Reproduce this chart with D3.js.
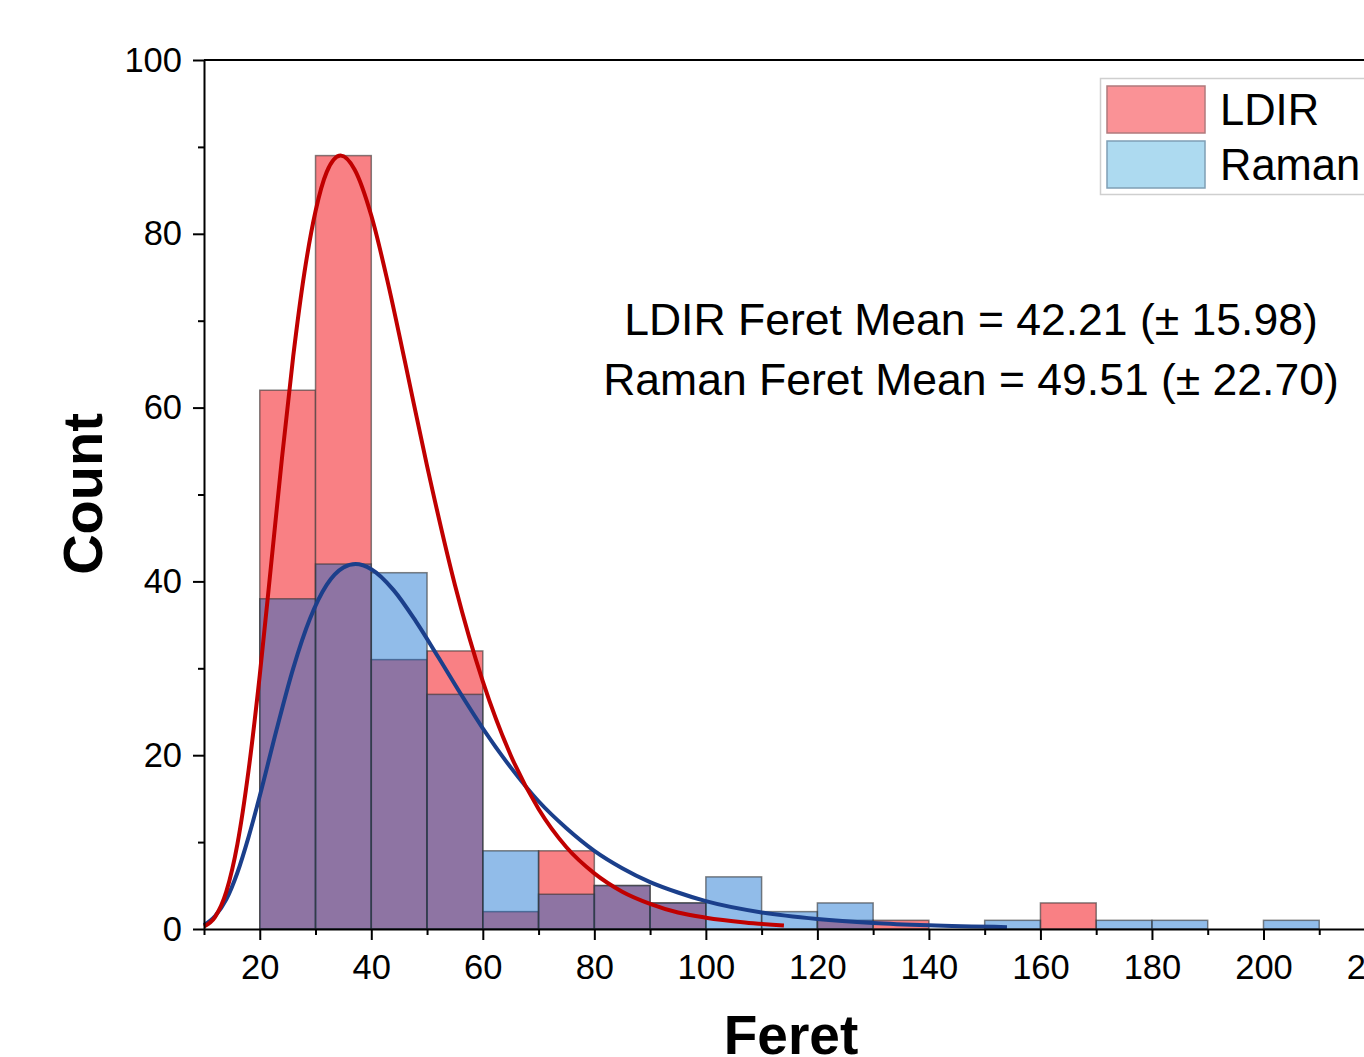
<!DOCTYPE html>
<html>
<head>
<meta charset="utf-8">
<script src="https://cdn.jsdelivr.net/npm/d3@7"></script>
<style>
  body { margin: 0; background: #fff; }
  svg { display: block; font-family: "Liberation Sans", Arial, sans-serif; }
  .axis path, .axis line { stroke: #000; stroke-width: 2; }
  .axis text { font-size: 34.5px; fill: #000; font-family: "Liberation Sans", Arial, sans-serif; }
</style>
</head>
<body>
<svg id="chart" width="1364" height="1057"></svg>
<script>
// histogram bins (left edge, width 10)
var binStarts = [20, 30, 40, 50, 60, 70, 80, 90, 100, 110, 120, 130, 140, 150, 160, 170, 180, 190, 200];
var ldirCounts = [62, 89, 31, 32, 2, 9, 5, 3, 0, 0, 1, 1, 0, 0, 3, 0, 0, 0, 0];
var ramanCounts = [38, 42, 41, 27, 9, 4, 5, 3, 6, 2, 3, 0, 0, 1, 0, 1, 1, 0, 1];
var binWidth = 10;

// fitted curves
var ldirFitX = [10, 12, 14, 16, 18, 20, 22, 24, 26, 28, 30, 32, 34.5, 37, 40, 43, 46, 50, 55, 60, 65, 70, 75, 80, 85, 90, 95, 100, 107, 114];
var ldirFitY = [0.3, 1.4, 4.3, 9.8, 18.3, 29.2, 41.7, 54.3, 65.9, 75.5, 82.6, 87.1, 89.0, 87.4, 82.1, 74.3, 65.4, 53.3, 39.6, 28.5, 20.0, 13.8, 9.4, 6.4, 4.3, 2.9, 1.9, 1.3, 0.75, 0.4];
var ramanFitX = [10, 12, 14, 16, 18, 20, 23, 26, 29, 32, 35, 37.2, 40, 44, 48, 52, 56, 60, 65, 70, 75, 80, 85, 90, 95, 100, 110, 120, 130, 140, 154];
var ramanFitY = [0.46, 1.5, 3.4, 6.5, 10.6, 15.3, 22.9, 30.0, 35.7, 39.6, 41.6, 42.0, 41.4, 39.0, 35.4, 31.3, 27.1, 23.1, 18.6, 14.7, 11.6, 9.0, 7.0, 5.4, 4.2, 3.2, 1.9, 1.15, 0.69, 0.42, 0.21];

var xMajor = [20, 40, 60, 80, 100, 120, 140, 160, 180, 200, 220];
var xMinor = [10, 30, 50, 70, 90, 110, 130, 150, 170, 190, 210];
var yMajor = [0, 20, 40, 60, 80, 100];
var yMinor = [10, 30, 50, 70, 90];

var seriesNames = ["LDIR", "Raman"];
var notes = ["LDIR Feret Mean = 42.21 (\u00b1 15.98)", "Raman Feret Mean = 49.51 (\u00b1 22.70)"];

var svg = d3.select("#chart");

var x = d3.scaleLinear().domain([10, 220]).range([204, 1375]);
var y = d3.scaleLinear().domain([0, 100]).range([929, 60]);

function bins(counts){
  var out = [];
  counts.forEach(function(c, i){
    if(c > 0) out.push({"x0": binStarts[i], "x1": binStarts[i] + binWidth, "v": c});
  });
  return out;
}

function drawBars(data, cls, fill, opacity){
  svg.append("g").attr("class", cls).selectAll("rect")
    .data(data).enter().append("rect")
    .attr("x", function(d){ return x(d.x0); })
    .attr("y", function(d){ return y(d.v); })
    .attr("width", function(d){ return x(d.x1) - x(d.x0); })
    .attr("height", function(d){ return y(0) - y(d.v); })
    .style("fill", fill)
    .style("fill-opacity", opacity)
    .style("stroke", "#333")
    .style("stroke-opacity", 0.6)
    .style("stroke-width", 1.5);
}

drawBars(bins(ldirCounts), "ldir", "rgb(249,128,132)", 1);
drawBars(bins(ramanCounts), "raman", "rgb(0,100,205)", 0.43);

// fit lines
var line = d3.line()
  .x(function(d){ return x(d[0]); })
  .y(function(d){ return y(d[1]); })
  .curve(d3.curveMonotoneX);

svg.append("path")
  .datum(d3.zip(ramanFitX, ramanFitY))
  .attr("d", line)
  .style("fill", "none")
  .style("stroke", "#1b3f8b")
  .style("stroke-width", 4);

svg.append("path")
  .datum(d3.zip(ldirFitX, ldirFitY))
  .attr("d", line)
  .style("fill", "none")
  .style("stroke", "#c00000")
  .style("stroke-width", 4);

// axes
var gx = svg.append("g").attr("class", "axis")
  .attr("transform", "translate(0," + y(0) + ")")
  .call(d3.axisBottom(x).tickValues(xMajor).tickSize(11).tickPadding(15).tickSizeOuter(0));
gx.selectAll("text").attr("dy", "0.71em");

svg.append("g").attr("class", "axis")
  .attr("transform", "translate(0," + y(0) + ")")
  .call(d3.axisBottom(x).tickValues(xMinor).tickSize(6).tickFormat("").tickSizeOuter(0))
  .select(".domain").remove();

svg.append("g").attr("class", "axis")
  .attr("transform", "translate(" + x(10) + ",0)")
  .call(d3.axisLeft(y).tickValues(yMajor).tickSize(11).tickPadding(11).tickSizeOuter(0));

svg.append("g").attr("class", "axis")
  .attr("transform", "translate(" + x(10) + ",0)")
  .call(d3.axisLeft(y).tickValues(yMinor).tickSize(6).tickFormat("").tickSizeOuter(0))
  .select(".domain").remove();

// top frame line
svg.append("line")
  .attr("x1", x(10)).attr("x2", x(220))
  .attr("y1", y(100)).attr("y2", y(100))
  .style("stroke", "#000").style("stroke-width", 2);

// axis titles
svg.append("text")
  .attr("transform", "translate(102,494) rotate(-90)")
  .attr("text-anchor", "middle")
  .style("font-size", "56px")
  .style("font-weight", "bold")
  .text("Count");

svg.append("text")
  .attr("x", 791).attr("y", 1054)
  .attr("text-anchor", "middle")
  .style("font-size", "55px")
  .style("font-weight", "bold")
  .text("Feret");

// mean annotations
svg.selectAll(".note").data(notes).enter().append("text")
  .attr("class", "note")
  .attr("x", 971)
  .attr("y", function(d, i){ return 335 + i * 60; })
  .attr("text-anchor", "middle")
  .style("font-size", "44.5px")
  .text(function(d){ return d; });

// legend
var legend = svg.append("g");
legend.append("rect")
  .attr("x", 1100.5).attr("y", 78.5)
  .attr("width", 300).attr("height", 116)
  .style("fill", "#fff")
  .style("stroke", "#cfcfcf")
  .style("stroke-width", 1.5);

var legendFill = ["#fa9296", "#addaf0"];
var legendStroke = ["#b07a7c", "#7f9fb5"];
seriesNames.forEach(function(name, i){
  var top = 86 + i * 55;
  legend.append("rect")
    .attr("x", 1107).attr("y", top)
    .attr("width", 98).attr("height", 47)
    .style("fill", legendFill[i])
    .style("stroke", legendStroke[i])
    .style("stroke-width", 1.5);
  legend.append("text")
    .attr("x", 1220).attr("y", top + 23.5 + 15)
    .style("font-size", "43.5px")
    .text(name);
});
</script>
</body>
</html>
